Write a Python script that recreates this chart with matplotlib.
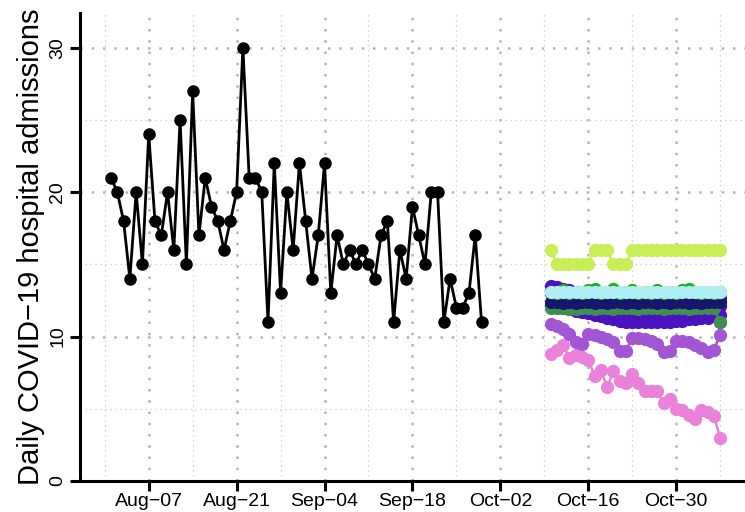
import numpy as np
import pandas as pd
import matplotlib
matplotlib.use("Agg")
import matplotlib.pyplot as plt

plt.rcParams['font.family'] = ['Liberation Sans', 'DejaVu Sans']

# ---- data ----
obs_start = "2020-08-01"
observed = [21, 20, 18, 14, 20, 15, 24, 18, 17, 20, 16, 25, 15, 27, 17, 21, 19, 18, 16, 18,
            20, 30, 21, 21, 20, 11, 22, 13, 20, 16, 22, 18, 14, 17, 22, 13, 17, 15, 16, 15,
            16, 15, 14, 17, 18, 11, 16, 14, 19, 17, 15, 20, 20, 11, 14, 12, 12, 13, 17, 11]

fc_start = "2020-10-10"
fc_yellowgreen = [16, 15, 15, 15, 15, 15, 15, 16, 16, 16, 15, 15, 15, 16, 16, 16, 16, 16, 16, 16,
                  16, 16, 16, 16, 16, 16, 16, 16]
fc_pink = [8.8, 9.1, 9.4, 8.5, 8.7, 8.6, 8.4, 7.3, 7.7, 6.5, 7.6, 6.9, 6.8, 7.4, 6.8, 6.2, 6.2,
           6.2, 5.4, 5.7, 5.0, 4.9, 4.6, 4.3, 4.9, 4.8, 4.5, 3.0]
fc_purple = [10.9, 10.7, 10.5, 10.2, 9.6, 9.5, 10.2, 10.1, 10.0, 9.8, 9.6, 9.0, 9.0, 9.9, 9.9,
             9.8, 9.7, 9.5, 8.9, 9.0, 9.7, 9.7, 9.6, 9.4, 9.2, 8.9, 9.1, 10.1]
fc_indigo_hi = [13.5, 13.4, 13.3, 13.2, 13.1, 13.0, 12.9, 12.8, 12.8, 12.7, 12.7, 12.6, 12.6, 12.6,
                12.6, 12.5, 12.5, 12.5, 12.5, 12.5, 12.5, 12.5, 12.6, 12.6, 12.6, 12.6, 12.7, 12.7]
fc_indigo_mid = [13.0, 12.9, 12.8, 12.6, 12.5, 12.3, 12.2, 12.1, 12.0, 11.9, 11.8, 11.8, 11.7, 11.7,
                 11.7, 11.7, 11.7, 11.7, 11.7, 11.7, 11.8, 11.8, 11.8, 11.9, 11.9, 12.0, 12.0, 12.1]
fc_indigo_lo = [12.2, 12.1, 12.0, 11.9, 11.8, 11.7, 11.6, 11.5, 11.4, 11.3, 11.2, 11.1, 11.0, 11.0,
                11.0, 11.0, 11.0, 11.0, 11.0, 11.0, 11.1, 11.1, 11.2, 11.2, 11.3, 11.3, 11.4, 11.5]
fc_darkgreen = [12.0, 12.0, 12.0, 11.9, 11.9, 12.0, 12.0, 11.9, 12.0, 12.0, 11.9, 12.0, 12.0, 12.0,
                11.9, 12.0, 12.0, 12.0, 11.9, 12.0, 12.0, 12.0, 11.9, 12.0, 12.0, 12.0, 12.0, 11.0]
fc_navy = [12.4, 12.4, 12.3, 12.4, 12.3, 12.4, 12.4, 12.3, 12.4, 12.3, 12.4, 12.4, 12.3, 12.4,
           12.3, 12.4, 12.4, 12.3, 12.4, 12.3, 12.4, 12.4, 12.3, 12.4, 12.3, 12.4, 12.4, 12.4]
fc_green = [13.1, 13.0, 13.2, 13.0, 13.1, 13.0, 13.2, 13.3, 13.0, 13.1, 13.3, 13.0, 13.1, 13.2,
            13.0, 13.1, 13.0, 13.2, 13.0, 13.1, 13.0, 13.2, 13.3, 13.1, 13.0, 13.1, 13.0, 13.1]
fc_cyan = [13.1, 13.1, 13.1, 13.1, 13.1, 13.1, 13.1, 13.1, 13.1, 13.1, 13.1, 13.1, 13.1, 13.1,
           13.1, 13.1, 13.1, 13.1, 13.1, 13.1, 13.1, 13.1, 13.1, 13.1, 13.1, 13.1, 13.1, 13.1]

tick_dates = ["2020-08-07", "2020-08-21", "2020-09-04", "2020-09-18", "2020-10-02", "2020-10-16", "2020-10-30"]
tick_labels = ["Aug\u221207", "Aug\u221221", "Sep\u221204", "Sep\u221218", "Oct\u221202", "Oct\u221216", "Oct\u221230"]
minor_dates = ["2020-07-31", "2020-08-14", "2020-08-28", "2020-09-11", "2020-09-25", "2020-10-09", "2020-10-23", "2020-11-06"]
y_ticks = [0, 10, 20, 30]
y_minor = [5, 15, 25]
ylabel = "Daily COVID\u221219 hospital admissions"

# ---- plot ----
fig = plt.figure(figsize=(7.45, 5.12), dpi=100)
ax = fig.add_axes([80/745, 31/512, 1 - 80/745, (481-13)/512])

obs_dates = pd.date_range(obs_start, periods=len(observed), freq="D")
fc_dates = pd.date_range(fc_start, periods=len(fc_pink), freq="D")

# grid
for d in minor_dates:
    ax.axvline(pd.Timestamp(d), color="#c8c8c8", lw=0.9, ls=(0, (1, 3)), zorder=0)
for d in tick_dates:
    ax.axvline(pd.Timestamp(d), color="#b4b4b4", lw=1.8, ls=(0, (1, 3.5)), zorder=0)
for v in y_minor:
    ax.axhline(v, color="#c8c8c8", lw=0.9, ls=(0, (1, 3)), zorder=0)
for v in y_ticks[1:]:
    ax.axhline(v, color="#b4b4b4", lw=1.8, ls=(0, (1, 3.5)), zorder=0)

ms = 8.5
lw = 1.8
series = [
    (fc_yellowgreen, "#c8ee55"),
    (fc_pink, "#ea82db"),
    (fc_purple, "#a256d4"),
    (fc_indigo_lo, "#4a12c0"),
    (fc_indigo_mid, "#4a12c0"),
    (fc_indigo_hi, "#4a12c0"),
    (fc_darkgreen, "#3f9050"),
    (fc_navy, "#16166e"),
    (fc_green, "#1fb01f"),
    (fc_cyan, "#b0eef4"),
]
for vals, col in series:
    ax.plot(fc_dates, vals, color=col, lw=lw, marker="o", ms=ms, mec=col, mfc=col, zorder=3)
# final dark green point on top
ax.plot(fc_dates[-1:], fc_darkgreen[-1:], color="#3f9050", marker="o", ms=ms, ls="none", zorder=4)

ax.plot(obs_dates, observed, color="black", lw=2.0, marker="o", ms=8, zorder=5)

x0 = pd.Timestamp(obs_start) - pd.Timedelta(days=4.94)
x1 = pd.Timestamp(obs_start) + pd.Timedelta(days=100.96)
ax.set_xlim(x0, x1)
ax.set_ylim(0, 32.4)

ax.set_xticks([pd.Timestamp(d) for d in tick_dates])
ax.set_xticklabels(tick_labels, fontsize=14)
ax.set_yticks(y_ticks)
ax.set_yticklabels([str(v) for v in y_ticks], fontsize=14, rotation=90, va="center")

for s in ["top", "right"]:
    ax.spines[s].set_visible(False)
for s in ["left", "bottom"]:
    ax.spines[s].set_linewidth(2.2)
ax.tick_params(axis="both", length=7, width=2.2)
ax.tick_params(axis="x", pad=1.5)
ax.tick_params(axis="y", pad=3)
ax.set_ylabel(ylabel, fontsize=21, labelpad=3)
ax.patch.set_alpha(0)

fig.savefig("out.png", dpi=100)
